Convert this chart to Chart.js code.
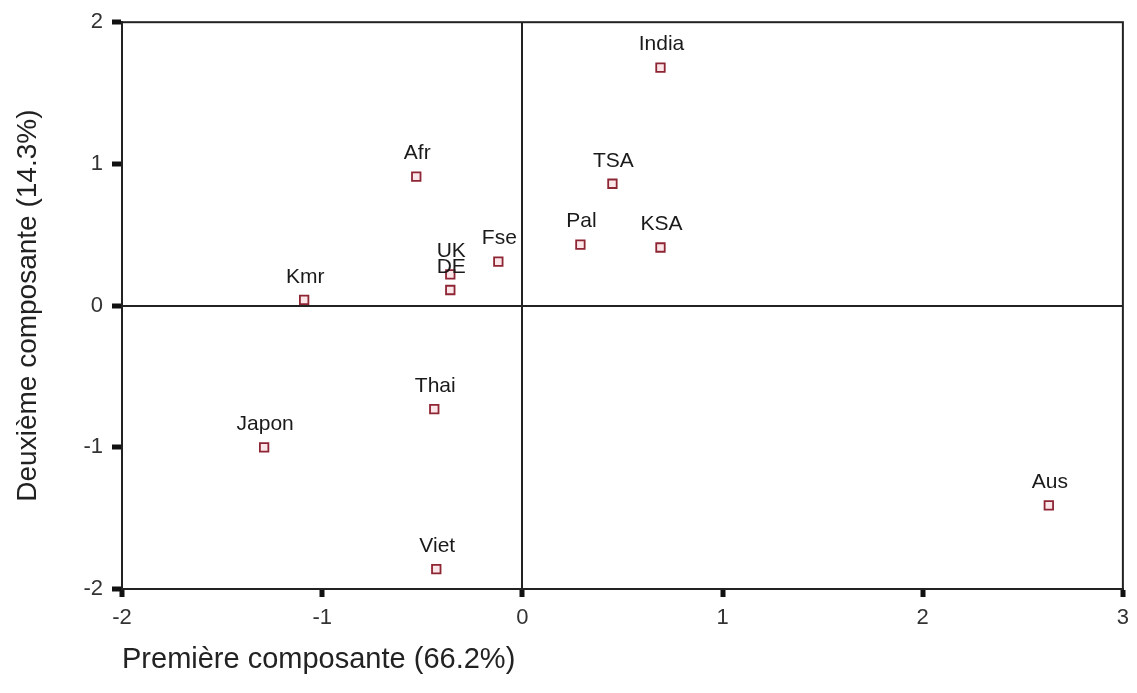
<!DOCTYPE html>
<html>
<head>
<meta charset="utf-8">
<script src="https://cdn.jsdelivr.net/npm/chart.js@4"></script>
<style>
  html, body { margin: 0; padding: 0; background: #fff; }
  #wrap { width: 1137px; height: 693px; }
</style>
</head>
<body>
<div id="wrap"><canvas id="acp"></canvas></div>
<script>
const pays = ['India', 'Afr', 'TSA', 'Pal', 'KSA', 'Fse', 'UK', 'DE', 'Kmr', 'Thai', 'Japon', 'Viet', 'Aus'];
const comp1 = [0.69, -0.53, 0.45, 0.29, 0.69, -0.12, -0.36, -0.36, -1.09, -0.44, -1.29, -0.43, 2.63];
const comp2 = [1.68, 0.91, 0.86, 0.43, 0.41, 0.31, 0.22, 0.11, 0.04, -0.73, -1.00, -1.86, -1.41];
const xTicks = [-2, -1, 0, 1, 2, 3];
const yTicks = [-2, -1, 0, 1, 2];

const points = pays.map((p, i) => ({ x: comp1[i], y: comp2[i] }));
const FONT = '"Liberation Sans", Arial, sans-serif';

// frame around the plot + country names above each marker
const framePlugin = {
    id: 'frame',
    afterDatasetsDraw(chart) {
        const ctx = chart.ctx;
        const a = chart.chartArea;
        ctx.save();
        ctx.strokeStyle = '#222';
        ctx.lineWidth = 2;
        ctx.strokeRect(a.left, a.top, a.right - a.left, a.bottom - a.top);

        const meta = chart.getDatasetMeta(0);
        ctx.fillStyle = '#1a1a1a';
        ctx.font = '21px ' + FONT;
        ctx.textAlign = 'center';
        ctx.textBaseline = 'middle';
        meta.data.forEach((el, i) => {
            ctx.fillText(pays[i], el.x + 1, el.y - 23);
        });
        ctx.restore();
    }
};

const gridColor = (c) => c.tick && c.tick.value === 0 ? '#222' : 'rgba(0,0,0,0)';

new Chart(document.getElementById('acp'), {
    type: 'scatter',
    data: {
        datasets: [{
            data: points,
            pointStyle: 'rect',
            pointRadius: 6,
            pointHoverRadius: 6,
            borderColor: '#8e2533',
            backgroundColor: '#fbe6ea',
            borderWidth: 1.8
        }]
    },
    options: {
        responsive: true,
        maintainAspectRatio: false,
        animation: false,
        layout: { padding: { top: 17, right: 14, left: 0, bottom: 0 } },
        plugins: {
            legend: { display: false },
            tooltip: { enabled: false }
        },
        scales: {
            x: {
                type: 'linear',
                min: -2,
                max: 3,
                afterBuildTicks: (s) => { s.ticks = xTicks.map(v => ({ value: v })); },
                afterFit: (s) => { s.height = 104; },
                grid: {
                    color: gridColor,
                    lineWidth: 2,
                    tickColor: '#111',
                    tickWidth: 5,
                    tickLength: 8
                },
                border: { color: '#222', width: 2 },
                ticks: {
                    color: '#333',
                    font: { family: FONT, size: 22 },
                    padding: 8,
                    maxRotation: 0
                },
                title: {
                    display: true,
                    text: 'Première composante (66.2%)',
                    align: 'start',
                    color: '#222',
                    font: { family: FONT, size: 29 },
                    padding: { top: 0, bottom: 16 }
                }
            },
            y: {
                type: 'linear',
                min: -2,
                max: 2,
                afterBuildTicks: (s) => { s.ticks = yTicks.map(v => ({ value: v })); },
                afterFit: (s) => { s.width = 122; },
                grid: {
                    color: gridColor,
                    lineWidth: 2,
                    tickColor: '#111',
                    tickWidth: 5,
                    tickLength: 10
                },
                border: { color: '#222', width: 2 },
                ticks: {
                    color: '#333',
                    font: { family: FONT, size: 22 },
                    padding: 9
                },
                title: {
                    display: true,
                    text: 'Deuxième composante (14.3%)',
                    color: '#222',
                    font: { family: FONT, size: 28 },
                    padding: { top: 11, bottom: 0 }
                }
            }
        }
    },
    plugins: [framePlugin]
});
</script>
</body>
</html>
